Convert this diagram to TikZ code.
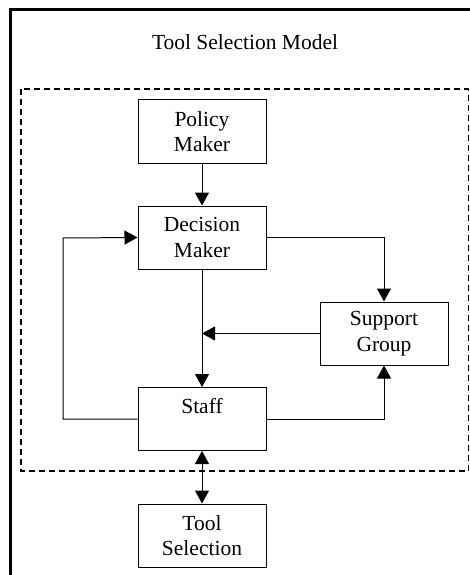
\documentclass[tikz,border=0pt]{standalone}
\usepackage{fontspec}
\setmainfont{Liberation Serif}
\usetikzlibrary{arrows.meta}
\begin{document}
\begin{tikzpicture}[x=1pt,y=-1pt,
  box/.style={draw,line width=1pt,minimum width=128pt,minimum height=63pt,
    align=center,font=\fontsize{21.5}{25.5}\selectfont,inner sep=0pt},
  tip/.style={Triangle[length=13pt,width=14pt]},
  link/.style={line width=1pt,-{Triangle[length=13pt,width=14pt]}}]
\useasboundingbox (0,0) rectangle (470,575);
% outer frame (runs off the right and bottom edges)
\draw[line width=3pt] (10.5,575) -- (10.5,9.5) -- (470,9.5);
\node[font=\fontsize{21.5}{25.5}\selectfont] (title) at (245,42) {Tool Selection Model};
% dashed group boundary
\draw[line width=1.5pt,dash pattern=on 6pt off 4pt] (21,89) rectangle (468.5,471);
% actors
\node[box] (policy)   at (202,131.5) {Policy\\Maker};
\node[box] (decision) at (202,237.5) {Decision\\Maker};
\node[box] (support)  at (384,333.5) {Support\\Group};
\node[box] (staff)    at (202,419)   {Staff\\\mbox{}};
\node[box] (tool)     at (202,535.5) {Tool\\Selection};
\coordinate (join) at (decision.south |- support.west);
\coordinate (loop) at (63,238);
% flows
\draw[link] (policy) -- (decision);
\draw[link] (decision) -- (staff);
\draw[link] (support.west) -- (join);
\draw[link] (decision.east) -| (support.north);
\draw[link] (staff.east) -| (support.south);
\draw[link] (staff.west) -| (loop) -- (decision.west);
\draw[line width=1pt,{Triangle[length=13pt,width=14pt]}-{Triangle[length=13pt,width=14pt]}] (staff) -- (tool);
\end{tikzpicture}
\end{document}
